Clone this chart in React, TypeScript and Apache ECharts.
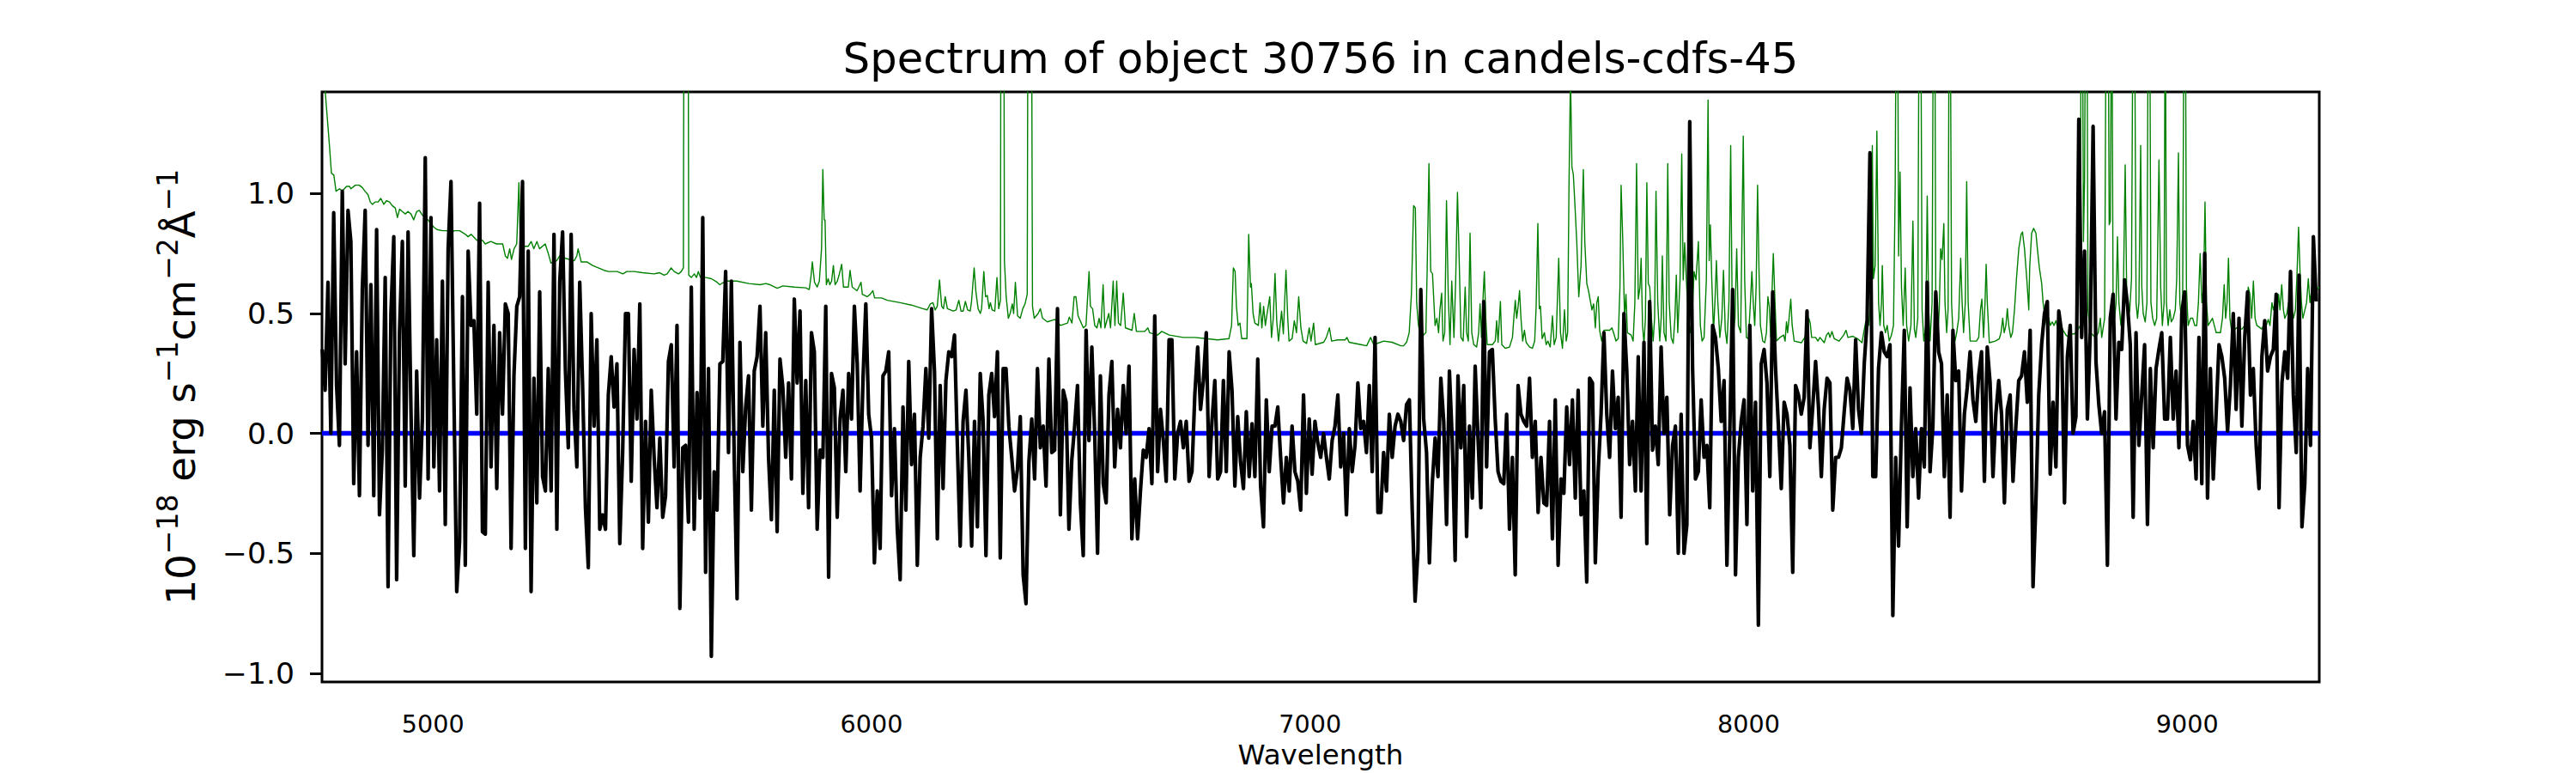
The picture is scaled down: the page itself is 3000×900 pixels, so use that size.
import React, { useEffect, useRef } from 'react';
import * as echarts from 'echarts';

const TITLE = 'Spectrum of object 30756 in candels-cdfs-45';
const X_LABEL = 'Wavelength';
const X_TICKS = [5000, 6000, 7000, 8000, 9000];
const Y_TICKS = [-1.0, -0.5, 0.0, 0.5, 1.0];
const X_MIN = 4747;
const X_MAX = 9301;
const Y_MIN = -1.037;
const Y_MAX = 1.424;

// flux sampled on a uniform wavelength grid
const WL_START = 4747.6;
const WL_STEP = 6.523;

const FLUX_A = [
  0.35, 0.18, 0.63, 0.0, 0.92, 0.2, -0.05, 1.01, 0.29, 0.93,
  0.8, -0.21, 0.34, -0.26, 0.6, 0.93, -0.05, 0.62, -0.26, 0.85,
  -0.34, -0.07, 0.65, -0.64, 0.5, 0.82, -0.61, 0.42, 0.8, -0.22,
  0.84, 0.1, -0.51, 0.26, -0.27, 0.06, 1.15, -0.19, 0.9, -0.14,
  0.39, -0.24, 0.635, -0.38, 0.77, 1.05, 0.18, -0.66, -0.45, 0.57,
  -0.55, 0.76, 0.45, 0.47, 0.08, 0.96, -0.41, -0.42, 0.63, -0.14,
  0.45, -0.23, 0.42, 0.08, 0.54, 0.5, -0.48, 0.24, 0.53, 0.57,
  1.05, -0.48, 0.76, -0.66, 0.23, -0.29, 0.59, -0.18, -0.24, 0.27,
  -0.24, 0.83, -0.4, 0.63, 0.84, 0.26, -0.06, 0.83, 0.1, -0.14,
  0.63, 0.2, -0.31, -0.56, 0.5, 0.03, 0.39, -0.4, -0.34,
];
const FLUX_B = [
  -0.4, 0.16, 0.32, 0.11, 0.29, -0.46, -0.08, 0.5, 0.5, -0.2,
  0.35, 0.06, 0.54, -0.48, 0.05, -0.37, 0.18, -0.1, -0.31, -0.02,
  -0.35, -0.26, 0.3, 0.37, -0.14, 0.45, -0.73, -0.06, -0.05, -0.37,
  0.61, -0.4, 0.17, -0.27, 0.9, -0.58, 0.27, -0.93, -0.16, -0.32,
  0.29, 0.3, 0.675, -0.08, 0.635, -0.1, -0.69, 0.38, -0.16, 0.11,
  0.24, -0.32, 0.26, 0.32, 0.53, 0.03, 0.42, -0.1, -0.36, 0.18,
  -0.41, 0.31, 0.19, -0.1, 0.21, -0.19, 0.56, 0.21, 0.51, -0.25,
  0.22, -0.31, 0.42, 0.34, -0.4, -0.07, -0.1, 0.53, -0.6, 0.25,
  0.19, -0.35, 0.06, 0.18, -0.16, 0.25, 0.06, 0.53, 0.29, -0.24,
  0.22, 0.54, 0.08, -0.02, -0.54, -0.24, -0.48, 0.24, 0.26,
];
const FLUX_C = [
  0.34, -0.26, 0.02, -0.4, -0.61, 0.11, -0.32, 0.3, -0.13, 0.08,
  -0.55, -0.1, 0.03, 0.27, -0.02, 0.52, 0.26, -0.44, 0.2, -0.23,
  0.22, 0.34, 0.32, 0.41, -0.05, -0.47, 0.05, 0.18, -0.1, -0.47,
  0.05, -0.39, 0.25, 0.05, -0.51, 0.16, 0.25, 0.07, 0.34, -0.52,
  0.27, 0.27, 0.03, -0.1, -0.24, -0.15, 0.07, -0.59, -0.71, -0.12,
  0.06, -0.19, 0.27, -0.06, 0.03, -0.22, 0.31, -0.08, -0.07, 0.52,
  -0.34, 0.18, 0.13, -0.4, -0.11, 0.03, 0.2, -0.29, -0.51, 0.43,
  -0.03, 0.36, 0.0, -0.5, 0.24, -0.21, -0.29, 0.16, 0.3, -0.14,
  0.1, -0.06, 0.2, 0.0, 0.28, -0.44, -0.19, -0.44, -0.24, -0.07,
  -0.1, 0.02, -0.21, 0.49, -0.16, 0.1, -0.03, -0.2, 0.39,
];
const FLUX_D = [
  0.39, -0.19, 0.0, 0.05, -0.06, 0.05, -0.2, -0.16, 0.16, 0.36,
  0.1, 0.22, 0.42, -0.18, 0.05, 0.22, -0.19, -0.16, 0.22, -0.16,
  0.34, 0.18, -0.22, 0.07, -0.12, -0.23, 0.09, -0.18, 0.04, -0.18,
  0.31, -0.22, -0.39, 0.14, -0.16, 0.03, 0.03, 0.11, -0.1, -0.29,
  -0.1, -0.24, 0.03, -0.16, -0.2, -0.32, 0.16, -0.25, 0.06, -0.17,
  0.05, -0.04, -0.1, 0.0, -0.1, -0.19, -0.03, 0.03, 0.16, -0.14,
  0.0, -0.34, 0.02, -0.16, -0.05, 0.21, 0.02, 0.05, -0.08, 0.2,
  -0.16, 0.4, -0.33, -0.33, -0.08, -0.24, 0.08, -0.1, 0.03, 0.08,
  0.05, -0.03, 0.12, 0.14, -0.32, -0.7, -0.49, 0.6, 0.06, -0.08,
  -0.54, -0.21, -0.02, -0.18, 0.23, 0.05, -0.38, 0.26, -0.03,
];
const FLUX_E = [
  -0.53, 0.24, -0.06, 0.2, -0.43, 0.03, -0.27, 0.28, -0.02, -0.31,
  0.55, -0.14, 0.34, 0.35, 0.06, -0.16, -0.2, -0.21, 0.08, -0.4,
  -0.1, -0.59, 0.2, 0.08, 0.05, 0.03, 0.23, -0.1, 0.05, -0.33,
  -0.1, -0.29, -0.3, 0.05, -0.44, 0.14, -0.55, -0.19, -0.25, 0.11,
  -0.13, 0.14, -0.27, 0.18, -0.34, -0.24, -0.62, 0.23, 0.21, -0.54,
  -0.16, 0.08, 0.42, 0.08, -0.1, 0.26, 0.02, 0.15, -0.35, 0.5,
  0.26, -0.13, 0.05, -0.24, 0.32, -0.24, 0.38, -0.46, 0.55, -0.07,
  0.03, -0.13, 0.36, 0.0, 0.15, -0.34, -0.05, 0.03, -0.5, 0.08,
  -0.5, -0.38, 1.3, 0.27, -0.19, -0.16, 0.14, -0.1, -0.05, -0.31,
  0.45, 0.4, 0.27, 0.05, 0.22, -0.55, 0.0, 0.6, -0.59,
];
const FLUX_F = [
  -0.1, 0.05, 0.14, -0.38, 0.45, -0.24, 0.13, -0.8, 0.29, 0.35,
  0.21, -0.18, 0.59, 0.27, 0.03, -0.23, 0.13, 0.08, -0.05, -0.58,
  0.2, 0.16, 0.08, 0.15, 0.51, -0.06, 0.11, 0.3, 0.11, -0.18,
  0.1, 0.23, 0.21, -0.32, -0.1, -0.1, -0.06, 0.09, 0.23, 0.18,
  0.02, 0.39, 0.1, 0.0, 0.29, 0.47, 1.17, -0.18, -0.18, 0.27,
  0.42, 0.34, 0.32, 0.37, -0.76, -0.1, -0.47, 0.03, 0.43, -0.39,
  0.19, -0.18, 0.02, -0.27, 0.02, -0.14, 0.63, -0.16, 0.03, 0.59,
  0.34, 0.29, -0.18, 0.16, -0.35, 0.43, 0.22, 0.26, -0.24, 0.08,
  0.19, 0.34, 0.14, 0.05, 0.24, 0.34, -0.2, 0.36, 0.21, -0.18,
  0.08, 0.22, 0.08, -0.29, 0.1, 0.16, -0.2, 0.03, 0.22,
];
const FLUX_G = [
  0.24, 0.34, 0.13, 0.43, -0.64, -0.29, 0.16, 0.37, 0.5, 0.55,
  -0.17, 0.13, -0.14, 0.51, 0.42, -0.29, 0.32, 0.45, 0.0, 0.07,
  1.31, 0.4, 0.76, 0.06, 0.42, 1.28, 0.3, 0.12, 0.0, 0.09,
  -0.55, 0.48, 0.58, 0.06, 0.38, 0.35, 0.64, 0.54, 0.37, -0.35,
  0.42, -0.05, 0.16, 0.37, -0.38, 0.27, -0.06, 0.27, 0.35, 0.42,
  0.06, 0.06, 0.4, 0.06, 0.26, -0.06, 0.5, 0.59, -0.05, -0.11,
  0.05, -0.19, 0.4, -0.21, 0.75, -0.27, 0.27, -0.19, 0.08, 0.37,
  0.32, 0.23, 0.01, 0.2, 0.5, 0.1, 0.48, 0.03, 0.4, 0.59,
  0.16, 0.27, -0.05, -0.23, 0.32, 0.47, 0.26, 0.32, 0.35, 0.58,
  -0.31, 0.21, 0.34, 0.23, 0.675, 0.16, -0.08, 0.66, -0.39, -0.21,
  0.27, -0.05, 0.82, 0.55,
];

// error spectrum: [wavelength, value]
const ERR_A = [
  [4747, 1.7], [4755, 1.41], [4764, 1.2], [4768.5, 1.085], [4774, 1.077], [4779, 1.01], [4787, 1.02], [4793, 1.01],
  [4803, 1.03], [4810, 1.03], [4813, 1.02], [4823, 1.035], [4832, 1.035], [4839, 1.025], [4845, 1.01], [4852, 0.995],
  [4857, 0.965], [4862, 0.955], [4868, 0.965], [4875, 0.965], [4881, 0.98], [4888, 0.955], [4894, 0.97], [4901, 0.965],
  [4907, 0.95], [4914, 0.94], [4919, 0.9], [4924, 0.935], [4930, 0.925], [4937, 0.915], [4943, 0.925], [4950, 0.915],
  [4956, 0.89], [4963, 0.925], [4969, 0.93], [4976, 0.91], [4982, 0.9], [4989, 0.89], [4995, 0.875], [5002, 0.86],
  [5009, 0.85], [5022, 0.845], [5035, 0.845], [5041, 0.83], [5048, 0.845], [5061, 0.845], [5074, 0.83], [5080, 0.82],
  [5087, 0.83], [5100, 0.805], [5113, 0.805], [5119, 0.79], [5132, 0.8], [5145, 0.79], [5159, 0.79], [5165, 0.74],
  [5170, 0.73], [5175, 0.77], [5179, 0.725], [5185, 0.77], [5191, 0.79], [5196, 1.045], [5199, 0.79], [5204, 0.78],
  [5217, 0.78], [5224, 0.8], [5230, 0.77], [5237, 0.8], [5243, 0.77], [5256, 0.79], [5263, 0.75], [5269, 0.71],
  [5282, 0.72], [5289, 0.74], [5302, 0.73], [5322, 0.72], [5328, 0.74], [5331, 0.77], [5338, 0.715], [5351, 0.715],
  [5364, 0.7], [5377, 0.69], [5390, 0.68],
];
const ERR_B = [
  [5400, 0.675], [5420, 0.675], [5433, 0.665], [5442, 0.675], [5459, 0.675], [5478, 0.67], [5504, 0.665], [5517, 0.67],
  [5527, 0.66], [5534, 0.665], [5543, 0.69], [5550, 0.675], [5560, 0.665], [5566, 0.675], [5571, 0.69], [5573.5, 3.0],
  [5580.6, 3.0], [5583.2, 0.66], [5589, 0.65], [5596, 0.665], [5601, 0.65], [5605, 0.675], [5610, 0.65], [5622, 0.65],
  [5635, 0.645], [5648, 0.63], [5654, 0.62], [5667, 0.635], [5693, 0.635], [5720, 0.625], [5746, 0.62], [5759, 0.625],
  [5768, 0.62], [5785, 0.605], [5798, 0.615], [5824, 0.61], [5850, 0.607], [5858, 0.6], [5862, 0.655], [5865, 0.715],
  [5870, 0.63], [5876, 0.61], [5881, 0.635], [5886, 0.77], [5889, 1.1], [5892, 0.89], [5894, 0.89], [5897, 0.62],
  [5901, 0.645], [5905, 0.62], [5909, 0.635], [5913, 0.7], [5917, 0.62], [5922, 0.635], [5926, 0.66], [5932, 0.705],
  [5936, 0.61], [5947, 0.61], [5951, 0.68], [5956, 0.61], [5967, 0.595], [5976, 0.63], [5979, 0.58], [5990, 0.57],
  [5997, 0.58], [6003, 0.595], [6007, 0.565], [6023, 0.565], [6036, 0.555],
];
const ERR_C = [
  [6065, 0.545], [6091, 0.535], [6117, 0.52], [6127, 0.515], [6134, 0.54], [6140, 0.545], [6145, 0.515], [6150, 0.53],
  [6155, 0.64], [6160, 0.53], [6164, 0.52], [6168, 0.57], [6173, 0.52], [6186, 0.51], [6193, 0.515], [6199, 0.555],
  [6204, 0.51], [6209, 0.51], [6214, 0.55], [6219, 0.515], [6225, 0.51], [6228, 0.55], [6234, 0.69], [6238, 0.59],
  [6243, 0.52], [6248, 0.5], [6251, 0.52], [6256, 0.675], [6260, 0.57], [6264, 0.575], [6268, 0.52], [6271, 0.545],
  [6275, 0.515], [6281, 0.51], [6286, 0.65], [6290, 0.52], [6294, 0.555], [6296, 3.5], [6300, 3.5], [6303, 0.72],
  [6307, 0.57], [6312, 0.48], [6316, 0.5], [6321, 0.54], [6324, 0.5], [6328, 0.63], [6333, 0.49], [6339, 0.48],
  [6345, 0.52], [6350, 0.54], [6355, 0.58], [6358, 3.0], [6363, 3.0], [6367, 0.53], [6371, 0.48], [6380, 0.5],
  [6385, 0.52], [6390, 0.48], [6401, 0.465], [6418, 0.475], [6431, 0.45], [6447, 0.46], [6451, 0.485], [6457, 0.46],
  [6462, 0.57], [6466, 0.57], [6471, 0.49], [6483, 0.44], [6489, 0.45], [6496, 0.675], [6499, 0.53], [6504, 0.52],
  [6509, 0.45], [6514, 0.44], [6519, 0.48], [6523, 0.44], [6528, 0.62], [6532, 0.44], [6541, 0.5], [6545, 0.44],
  [6551, 0.635], [6555, 0.45], [6559, 0.635], [6563, 0.46], [6568, 0.45], [6574, 0.585], [6579, 0.44], [6594, 0.43],
  [6599, 0.5], [6604, 0.425], [6623, 0.425], [6630, 0.44], [6634, 0.42], [6652, 0.41], [6662, 0.425], [6679, 0.41],
];
const ERR_D = [
  [6711, 0.4], [6737, 0.4], [6763, 0.395], [6789, 0.39], [6815, 0.395], [6821, 0.45], [6825, 0.69], [6829, 0.675],
  [6832, 0.53], [6836, 0.45], [6840, 0.46], [6844, 0.395], [6856, 0.395], [6860, 0.83], [6864, 0.61], [6866, 0.625],
  [6870, 0.5], [6874, 0.46], [6882, 0.45], [6886, 0.545], [6890, 0.44], [6894, 0.53], [6898, 0.45], [6902, 0.5],
  [6908, 0.57], [6912, 0.4], [6916, 0.48], [6920, 0.667], [6924, 0.465], [6928, 0.385], [6935, 0.51], [6939, 0.415],
  [6945, 0.68], [6949, 0.48], [6952, 0.385], [6959, 0.395], [6964, 0.47], [6969, 0.42], [6974, 0.57], [6979, 0.44],
  [6984, 0.385], [6992, 0.375], [6998, 0.44], [7002, 0.385], [7008, 0.46], [7012, 0.37], [7031, 0.38], [7037, 0.4],
  [7044, 0.44], [7049, 0.385], [7063, 0.39], [7080, 0.39], [7084, 0.4], [7089, 0.38], [7116, 0.37], [7129, 0.365],
  [7138, 0.4], [7145, 0.37], [7168, 0.385], [7187, 0.38], [7207, 0.365], [7213, 0.365], [7220, 0.38], [7226, 0.42],
  [7231, 0.58], [7236, 0.95], [7240, 0.94], [7243, 0.545], [7247, 0.45], [7253, 0.4], [7264, 0.42], [7267, 0.69],
  [7271, 1.125], [7275, 0.675], [7279, 0.667], [7281, 0.595], [7285, 0.45], [7289, 0.48], [7293, 0.42], [7296, 0.515],
  [7300, 0.585], [7303, 0.385], [7307, 0.42], [7311, 0.97], [7315, 0.58], [7319, 0.37], [7323, 0.635], [7328, 0.4],
  [7332, 0.64], [7336, 1.005], [7340, 0.72], [7344, 0.4], [7349, 0.385],
];
const ERR_E = [
  [7353.6, 0.61], [7356.9, 0.42], [7360.8, 0.385], [7364.7, 0.835], [7368.6, 0.42], [7373.2, 0.37], [7379.7, 0.36],
  [7384.3, 0.42], [7387.5, 0.54], [7390.8, 0.4], [7394.7, 0.58], [7397.3, 0.675], [7400.6, 0.48], [7403.9, 0.37],
  [7415.6, 0.37], [7422.1, 0.385], [7425.4, 0.47], [7428.6, 0.38], [7433.9, 0.55], [7437.1, 0.37], [7445, 0.355],
  [7454.7, 0.36], [7461.4, 0.4], [7464.5, 0.48], [7467.8, 0.555], [7471, 0.48], [7474.3, 0.53], [7477.6, 0.595],
  [7480.8, 0.48], [7484.7, 0.385], [7488.7, 0.43], [7492.6, 0.38], [7500.4, 0.36], [7506.9, 0.355], [7512.1, 0.385],
  [7515.4, 0.53], [7519.3, 0.875], [7522.6, 0.52], [7525.2, 0.53], [7529.1, 0.395], [7534.3, 0.42], [7538.2, 0.37],
  [7542.1, 0.385], [7547.4, 0.36], [7552.6, 0.49], [7556.5, 0.37], [7561.1, 0.4], [7566.9, 0.73], [7570.9, 0.42],
  [7575.4, 0.355], [7580, 0.515], [7583.9, 0.385], [7587.2, 0.42], [7590.4, 1.045], [7593.7, 1.5], [7597, 1.11],
  [7600.2, 1.08], [7603.5, 0.965], [7608, 0.8], [7612.6, 0.57], [7617.8, 0.7], [7623, 1.1], [7626.3, 0.8],
  [7630.9, 0.625], [7634.8, 0.595], [7638.7, 0.555], [7642.6, 0.515], [7646.5, 0.54], [7650.4, 0.44], [7653.7, 0.545],
  [7657, 0.57], [7660.2, 0.43], [7664.8, 0.385], [7670, 0.43], [7683, 0.43], [7688.3, 0.44], [7692.8, 0.415],
  [7697.4, 0.385], [7702.6, 0.395], [7706.5, 0.61], [7709.1, 1.035], [7713, 0.8], [7717, 0.48], [7720.2, 0.58],
  [7723.5, 0.42], [7732, 0.41], [7736.5, 0.385], [7740.4, 0.54], [7744.4, 1.125], [7748.3, 0.56], [7752.2, 0.61],
  [7754.8, 0.73], [7758, 0.45], [7761.3, 0.375], [7764.6, 0.48], [7767.8, 1.045], [7771.1, 0.625], [7774.4, 0.61],
  [7778.3, 0.48], [7782.2, 0.385], [7785.5, 0.48], [7788.7, 1.01], [7792.6, 0.55], [7797.2, 0.385], [7800.5, 0.48],
  [7803.1, 0.74], [7807, 0.42], [7811.5, 0.385], [7815.5, 1.125], [7818.7, 0.55], [7823.3, 0.4], [7827.9, 0.375],
  [7831.8, 0.48], [7835, 0.66], [7838.3, 0.42], [7843.5, 0.64], [7847.4, 1.165], [7850.7, 0.64], [7854, 0.795],
  [7857.9, 0.64], [7862.4, 0.48], [7867, 0.42], [7870.9, 0.48], [7875.5, 0.675], [7880, 0.64], [7885.3, 0.8],
  [7889.8, 0.45], [7893.8, 0.385], [7898.3, 0.4], [7903.5, 0.64], [7907.4, 1.39], [7910, 0.72], [7912.7, 0.87],
  [7915.9, 0.64], [7919.8, 0.42], [7923.1, 0.55], [7926.4, 0.72], [7929.6, 0.55], [7934.2, 0.4], [7938.8, 0.48],
  [7942.6, 0.68], [7946.6, 0.43], [7950.5, 0.375], [7955, 0.55], [7959, 1.2], [7962.2, 0.55], [7965.5, 0.42],
  [7968.8, 0.48], [7972.7, 0.77], [7976.6, 0.45], [7981.8, 0.42], [7985, 0.885], [7987.7, 1.24], [7990.9, 0.64],
  [7994.8, 0.4],
];
const ERR_F = [
  [7999.4, 0.395], [8004, 0.545], [8007.3, 0.675], [8010.5, 0.545], [8013.8, 0.45], [8017, 0.61], [8020.3, 1.035],
  [8023.6, 0.675], [8026.8, 0.45], [8032, 0.385], [8036.6, 0.378], [8040.5, 0.42], [8043.8, 0.57], [8047, 0.53],
  [8050.3, 0.4], [8053.6, 0.61], [8056.2, 0.75], [8060.1, 0.545], [8063.4, 0.385], [8071.2, 0.4], [8079.7, 0.41],
  [8083, 0.385], [8086.2, 0.465], [8088.8, 0.42], [8092.1, 0.48], [8096, 0.56], [8099.2, 0.45], [8103.8, 0.385],
  [8120.1, 0.378], [8127.9, 0.4], [8133.2, 0.44], [8137.1, 0.48], [8140.3, 0.46], [8143.6, 0.4], [8152.7, 0.4],
  [8157.9, 0.385], [8162.5, 0.4], [8172.3, 0.378], [8177.5, 0.41], [8182.1, 0.42], [8185.3, 0.4], [8189.9, 0.425],
  [8195.1, 0.395], [8206.2, 0.385], [8216.6, 0.41], [8221.9, 0.43], [8226.4, 0.4], [8237.5, 0.405], [8248, 0.395],
  [8258.4, 0.378], [8262.3, 0.42], [8266.9, 0.465], [8270.1, 0.475], [8273.4, 0.45], [8276.7, 0.515], [8279.9, 0.61],
  [8281.9, 1.2], [8284.5, 0.645], [8288.4, 0.7], [8292.3, 1.26], [8296.2, 0.545], [8299.5, 0.45], [8302.8, 0.545],
  [8304.7, 0.7], [8308, 0.45], [8311.9, 0.42], [8315.8, 0.45], [8320.4, 0.385], [8325.6, 0.41], [8330.2, 0.45],
  [8334.1, 1.03], [8336.7, 2.0], [8339.3, 2.0], [8341.9, 0.74], [8345.2, 1.09], [8348.4, 0.61], [8352.3, 0.45],
  [8356.9, 0.69], [8360.2, 0.45], [8364.7, 0.385], [8370, 0.45], [8374.5, 0.885], [8377.8, 0.435], [8381, 0.4],
  [8385.6, 0.48], [8388.9, 2.0], [8392.1, 2.0], [8395.4, 0.515], [8399.3, 0.385], [8403.9, 0.45], [8407.1, 0.99],
  [8410.4, 0.515], [8413.7, 0.385], [8418.2, 0.545], [8421.5, 2.0], [8424.1, 2.0], [8426.7, 0.515], [8430.6, 0.385],
  [8434.5, 0.515], [8437.8, 0.77], [8441, 0.725], [8445, 0.875], [8447.6, 0.545], [8451.5, 0.42], [8454.7, 0.515],
  [8457.3, 2.0], [8459.3, 2.0], [8462.6, 0.545], [8465.8, 0.42], [8470.4, 0.385], [8474.3, 0.42], [8478.9, 0.48],
  [8483.4, 0.73], [8486.7, 0.545], [8490, 0.42], [8493.9, 0.545], [8497.1, 1.05], [8500.4, 0.545], [8505, 0.385],
  [8519.3, 0.385], [8524.5, 0.4], [8528.5, 0.515], [8531.7, 0.56], [8535.6, 0.4], [8538.9, 0.545], [8541.5, 0.705],
  [8544.1, 0.545], [8548.7, 0.378], [8562.4, 0.385], [8571.5, 0.395], [8575.4, 0.42], [8579.3, 0.48], [8582.6, 0.42],
  [8586.5, 0.45], [8589.8, 0.52], [8593, 0.45], [8597.6, 0.4], [8601.5, 0.42], [8606.1, 0.515], [8610.6, 0.645],
  [8615.9, 0.77], [8621.1, 0.83], [8624.3, 0.84], [8628.9, 0.77], [8634.1, 0.645], [8638.7, 0.515],
];
const ERR_G = [
  [8640.7, 0.69], [8645.2, 0.835], [8649.8, 0.855], [8655, 0.835], [8658.3, 0.77], [8662.8, 0.69], [8668.1, 0.625],
  [8671.3, 0.545], [8675.9, 0.48], [8679.8, 0.45], [8684.4, 0.48], [8687.6, 0.45], [8692.2, 0.465], [8696.1, 0.45],
  [8700.7, 0.47], [8705.9, 0.43], [8710.5, 0.455], [8717, 0.43], [8723.5, 0.41], [8730, 0.4], [8736.6, 0.415],
  [8743.1, 0.415], [8749.6, 0.43], [8756.1, 0.45], [8758.1, 2.0], [8760.7, 2.0], [8763.3, 0.8], [8765.9, 1.06],
  [8768.5, 2.0], [8771.1, 2.0], [8773.7, 0.515], [8779, 0.42], [8790.7, 0.4], [8797.2, 0.42], [8801.8, 0.48],
  [8805, 0.4], [8811.6, 0.48], [8815.5, 2.0], [8819.4, 2.0], [8822, 0.87], [8824.6, 0.885], [8827.9, 2.0],
  [8831.1, 0.45], [8834.4, 0.48], [8837.7, 0.545], [8840.9, 0.82], [8844.2, 0.545], [8848.7, 0.45], [8854, 0.545],
  [8858.5, 1.12], [8861.8, 0.61], [8865.1, 0.48], [8869, 0.515], [8872.9, 0.645], [8876.8, 2.0], [8879.4, 2.0],
  [8883.3, 0.545], [8886.6, 0.48], [8889.8, 0.545], [8893.8, 1.2], [8896.4, 0.61], [8899.6, 0.5], [8904.2, 0.465],
  [8908.1, 0.545], [8911.4, 2.0], [8914, 2.0], [8917.2, 0.545], [8921.2, 0.48], [8925.7, 0.45], [8930.3, 0.48],
  [8935.5, 1.14], [8939.4, 0.61], [8943.3, 0.45], [8947.2, 0.545], [8949.9, 2.0], [8952.5, 0.545], [8956.4, 0.45],
  [8960.3, 0.515], [8963.6, 0.465], [8968.1, 0.48], [8972.7, 0.515], [8976, 0.645], [8979.9, 1.17], [8983.1, 0.545],
  [8986.4, 0.48], [8989.6, 0.58], [8992.9, 2.0], [8995.5, 2.0], [8998.1, 0.61], [9002, 0.45], [9007.3, 0.48],
  [9012.5, 0.48], [9017, 0.45], [9021.6, 0.45], [9025.5, 0.545], [9029.4, 0.75], [9033.4, 0.545], [9037.3, 0.61],
  [9040.5, 0.965], [9043.8, 0.545], [9047.7, 0.45], [9057.5, 0.48], [9066, 0.42], [9075.7, 0.42], [9080.3, 0.48],
  [9084.2, 0.62], [9087.5, 0.48], [9090.8, 0.545], [9094, 0.73], [9097.3, 0.48], [9101.8, 0.42], [9111.6, 0.44],
  [9124.7, 0.435], [9131.2, 0.45], [9135.8, 0.48], [9139, 0.61], [9142.9, 0.58], [9146.9, 0.48], [9150.8, 0.635],
  [9154.7, 0.48], [9158.6, 0.45], [9170.3, 0.435], [9175.6, 0.46], [9180.1, 0.45], [9184.7, 0.475], [9188.6, 0.45],
  [9193.2, 0.545], [9196.4, 0.515], [9200.3, 0.545], [9204.3, 0.48], [9208.2, 0.58], [9211.4, 0.515], [9215.4, 0.62],
  [9219.3, 0.515], [9222.5, 0.48], [9227.1, 0.5], [9231, 0.545], [9235.6, 0.48], [9238.8, 0.515], [9242.1, 0.48],
  [9246.6, 0.515], [9249.9, 0.645], [9253.8, 0.86], [9257.1, 0.675], [9260.4, 0.545], [9263.6, 0.48], [9268.2, 0.515],
  [9272.1, 0.545], [9276, 0.645], [9279.9, 0.545], [9284.5, 0.61], [9289, 0.62], [9294.3, 0.595], [9300.8, 0.61],
];

const MODEL_WL = [4747, 9301];
const MODEL = [0, 0];

const FONT = "'DejaVu Sans', sans-serif";

function fmtY(v: number): string {
  const s = Math.abs(v).toFixed(1);
  return v < 0 ? '\u2212' + s : s;
}

export default function App() {
  const ref = useRef<HTMLDivElement>(null);

  useEffect(() => {
    if (!ref.current) return;
    const chart = echarts.init(ref.current, undefined, { renderer: 'svg' });

    const flux = [...FLUX_A, ...FLUX_B, ...FLUX_C, ...FLUX_D, ...FLUX_E, ...FLUX_F, ...FLUX_G];
    const fluxData = flux.map((v, i) => [WL_START + i * WL_STEP, v]);
    const errData = [...ERR_A, ...ERR_B, ...ERR_C, ...ERR_D, ...ERR_E, ...ERR_F, ...ERR_G];
    const modelData = MODEL_WL.map((w, i) => [w, MODEL[i]]);

    const option: any = {
      animation: false,
      backgroundColor: '#ffffff',
      grid: {
        left: 375,
        right: 299,
        top: 107,
        bottom: 100,
        show: true,
        borderColor: '#000000',
        borderWidth: 3,
        backgroundColor: 'transparent',
      },
      graphic: [
        {
          type: 'text',
          x: 1538,
          y: 68,
          silent: true,
          style: {
            text: TITLE,
            fontSize: 49.5,
            fontFamily: FONT,
            fill: '#000000',
            align: 'center',
            verticalAlign: 'middle',
            textAlign: 'center',
            textVerticalAlign: 'middle',
          },
        },
      ],
      xAxis: {
        type: 'value',
        min: X_MIN,
        max: X_MAX,
        name: X_LABEL,
        nameLocation: 'middle',
        nameGap: 63,
        nameTextStyle: { fontFamily: FONT, fontSize: 32.5, color: '#000000' },
        axisLine: { show: false },
        axisTick: {
          show: true,
          inside: false,
          length: 14,
          lineStyle: { color: '#000000', width: 3 },
          customValues: X_TICKS,
        },
        axisLabel: {
          customValues: X_TICKS,
          margin: 34,
          fontSize: 28.6,
          fontFamily: FONT,
          color: '#000000',
          formatter: (v: number) => String(v),
        },
        splitLine: { show: false },
      },
      yAxis: {
        type: 'value',
        min: Y_MIN,
        max: Y_MAX,
        name: '{m|10}{s|\u221218}{m| erg s}{s|\u22121}{m|cm}{s|\u22122}{m|\u00c5}{s|\u22121}',
        nameLocation: 'middle',
        nameRotate: 90,
        nameGap: 132,
        nameTextStyle: {
          fontFamily: FONT,
          color: '#000000',
          lineHeight: 64,
          rich: {
            m: { fontSize: 46.5, lineHeight: 64, verticalAlign: 'middle', fontFamily: FONT, color: '#000000' },
            s: { fontSize: 33, lineHeight: 36, verticalAlign: 'top', fontFamily: FONT, color: '#000000' },
          },
        },
        axisLine: { show: false },
        axisTick: {
          show: true,
          inside: false,
          length: 14,
          lineStyle: { color: '#000000', width: 3 },
          customValues: Y_TICKS,
        },
        axisLabel: {
          customValues: Y_TICKS,
          margin: 32,
          fontSize: 34.6,
          fontFamily: FONT,
          color: '#000000',
          padding: [8, 0, 0, 0],
          formatter: (v: number) => fmtY(v),
        },
        splitLine: { show: false },
      },
      series: [
        {
          name: 'error',
          type: 'line',
          data: errData,
          showSymbol: false,
          symbol: 'none',
          clip: true,
          silent: true,
          lineStyle: { color: '#008000', width: 1.4, join: 'round' },
          z: 1,
        },
        {
          name: 'model',
          type: 'line',
          data: modelData,
          showSymbol: false,
          symbol: 'none',
          clip: true,
          silent: true,
          lineStyle: { color: '#0000ff', width: 5.6 },
          z: 2,
        },
        {
          name: 'flux',
          type: 'line',
          data: fluxData,
          showSymbol: false,
          symbol: 'none',
          clip: true,
          silent: true,
          lineStyle: { color: '#000000', width: 4.2, join: 'round' },
          z: 3,
        },
      ],
    };

    chart.setOption(option);
    return () => {
      chart.dispose();
    };
  }, []);

  return (
    <div
      ref={ref}
      style={{ position: 'absolute', left: 0, top: 0, width: 3000, height: 900, background: '#ffffff' }}
    />
  );
}
